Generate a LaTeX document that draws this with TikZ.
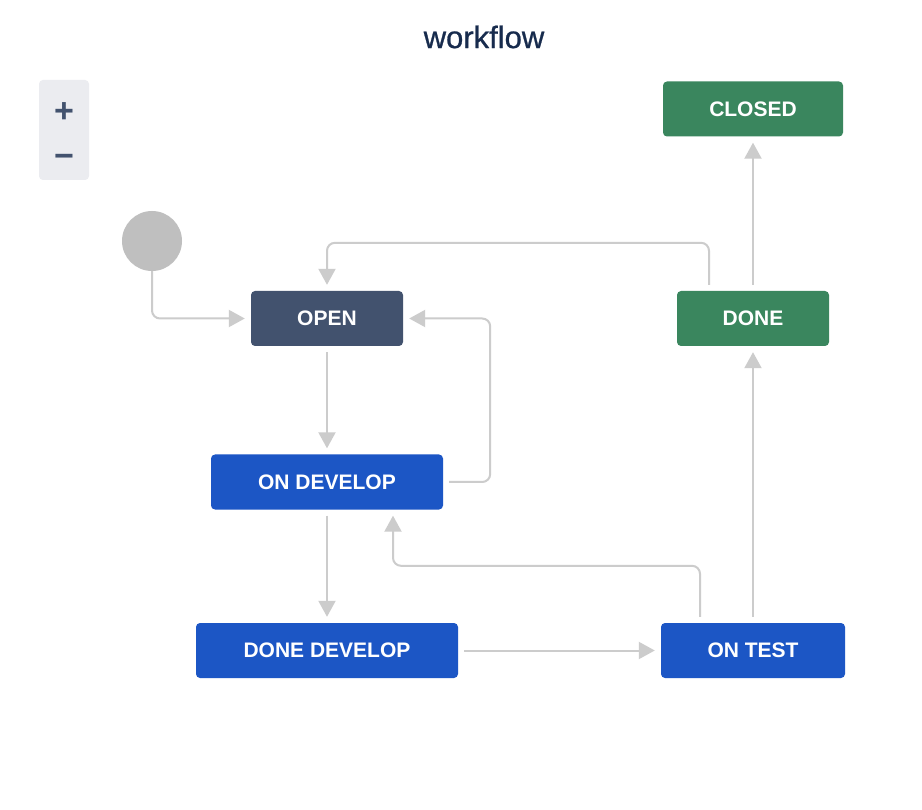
\documentclass[tikz,border=0pt]{standalone}
\usepackage{fontspec}
\setmainfont{Liberation Sans}
\newfontfamily\titlefont[FakeBold=0.8]{Liberation Sans}
\usetikzlibrary{arrows.meta}
\definecolor{opencol}{HTML}{42526E}
\definecolor{bluecol}{HTML}{1C56C5}
\definecolor{greencol}{HTML}{3A865E}
\definecolor{linegray}{HTML}{CCCCCC}
\definecolor{circgray}{HTML}{BFBFBF}
\definecolor{titlecol}{HTML}{172B4D}
\definecolor{zoombg}{HTML}{EBECF0}
\begin{document}
\begin{tikzpicture}[x=1pt,y=-1pt,
  state/.style={rounded corners=4pt, minimum height=55pt, text=white,
    font=\bfseries\fontsize{21}{24}\selectfont, inner sep=0pt},
  conn/.style={draw=linegray, line width=2pt, rounded corners=8pt,
    shorten >=6pt, shorten <=6pt, -{Triangle[length=16pt,width=17pt]}}]
\useasboundingbox[fill=white] (0,0) rectangle (922,810);

\node[font=\titlefont\fontsize{31}{34}\selectfont, text=titlecol] (title) at (484,37) {workflow};

\node[fill=zoombg, rounded corners=4pt, minimum width=50pt, minimum height=100pt, inner sep=0pt] (zoom) at (64,130) {};
\node[font=\bfseries\fontsize{34}{36}\selectfont, text=opencol] (plus) at (64,112.5) {+};
\node[font=\bfseries\fontsize{34}{36}\selectfont, text=opencol] (minus) at (64,161) {−};

\node[circle, fill=circgray, minimum size=60pt, inner sep=0pt] (start) at (152,241) {};

\node[state, fill=opencol, minimum width=152pt] (open) at (327,318.5) {OPEN};
\node[state, fill=greencol, minimum width=180pt] (closed) at (753,109) {CLOSED};
\node[state, fill=greencol, minimum width=152pt] (done) at (753,318.5) {DONE};
\node[state, fill=bluecol, minimum width=232pt] (ondev) at (327,482) {ON DEVELOP};
\node[state, fill=bluecol, minimum width=262pt] (donedev) at (327,650.5) {DONE DEVELOP};
\node[state, fill=bluecol, minimum width=184pt] (ontest) at (753,650.5) {ON TEST};

\draw[conn, shorten <=0pt] (start.south) |- (open.west);
\draw[conn] (open.south) -- (ondev.north);
\draw[conn] (ondev.east) -- ++(47,0) |- (open.east);
\draw[conn] (ondev.south) -- (donedev.north);
\draw[conn] (donedev.east) -- (ontest.west);
\draw[conn] ([xshift=-53pt]ontest.north) -- ++(0,-57) -| ([xshift=66pt]ondev.south);
\draw[conn] (ontest.north) -- (done.south);
\draw[conn] (done.north) -- (closed.south);
\draw[conn] ([xshift=-44pt]done.north) -- ++(0,-48) -| (open.north);
\end{tikzpicture}
\end{document}
